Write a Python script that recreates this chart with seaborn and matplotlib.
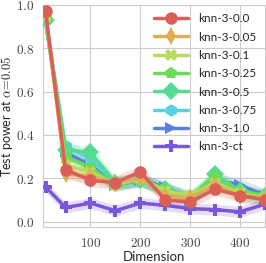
import numpy as np
import pandas as pd
import matplotlib
matplotlib.use("Agg")
import matplotlib.pyplot as plt
import seaborn as sns
from matplotlib.ticker import FuncFormatter

# --- Style ---
sns.set_style("whitegrid")
plt.rcParams["mathtext.fontset"] = "cm"
plt.rcParams["font.family"] = ["Lato", "DejaVu Sans"]

# --- Data ---
dims = [10, 50, 100, 150, 200, 250, 300, 350, 400, 450]
names = ["knn-3-0.0", "knn-3-0.05", "knn-3-0.1", "knn-3-0.25",
         "knn-3-0.5", "knn-3-0.75", "knn-3-1.0", "knn-3-ct"]
power_00 = [0.97, 0.24, 0.19, 0.18, 0.23, 0.10, 0.09, 0.15, 0.12, 0.10]
power_005 = [0.96, 0.22, 0.21, 0.18, 0.20, 0.12, 0.11, 0.17, 0.12, 0.11]
power_01 = [0.95, 0.26, 0.23, 0.17, 0.20, 0.14, 0.12, 0.18, 0.13, 0.11]
power_025 = [0.94, 0.30, 0.25, 0.17, 0.19, 0.15, 0.11, 0.21, 0.14, 0.12]
power_05 = [0.93, 0.33, 0.32, 0.18, 0.19, 0.15, 0.11, 0.22, 0.14, 0.12]
power_075 = [0.93, 0.35, 0.29, 0.18, 0.19, 0.15, 0.10, 0.19, 0.13, 0.11]
power_10 = [0.92, 0.32, 0.26, 0.17, 0.19, 0.16, 0.10, 0.19, 0.17, 0.12]
power_ct = [0.16, 0.065, 0.085, 0.05, 0.085, 0.075, 0.06, 0.055, 0.045, 0.08]
band = [0.03, 0.03, 0.03, 0.03, 0.03, 0.03, 0.03, 0.025]
markers = ["o", "d", "X", "p", "D", "h", ">", "P"]

series = [power_00, power_005, power_01, power_025, power_05, power_075, power_10, power_ct]
df = pd.DataFrame({
    "Dimension": dims * len(names),
    "power": [v for s in series for v in s],
    "method": [n for n in names for _ in dims],
})

colors = sns.color_palette("hls", 10)[:8]

fig = plt.figure(figsize=(2.66, 2.63), dpi=100)
ax = fig.add_axes([0.162, 0.137, 0.834, 0.844])

for name, vals, c, b in zip(names, series, colors, band):
    v = np.array(vals)
    ax.fill_between(dims, v - b, v + b, color=c, alpha=0.2, lw=0)

sns.lineplot(data=df, x="Dimension", y="power", hue="method", style="method",
             palette=colors, markers=markers, dashes=False, lw=2.5,
             markersize=9, markeredgewidth=0, ax=ax)
# first series ends up on top, as in the reference
for i, ln in enumerate(ax.lines[:len(names)]):
    ln.set_zorder(3 + len(names) - i)

ax.set_xlim(5, 450)
ax.set_ylim(-0.025, 1.0)
ax.set_xticks([100, 200, 300, 400])
ax.set_yticks([0.0, 0.2, 0.4, 0.6, 0.8, 1.0])
ax.xaxis.set_major_formatter(FuncFormatter(lambda v, p: f"${v:.0f}$"))
ax.yaxis.set_major_formatter(FuncFormatter(lambda v, p: f"${v:.1f}$"))
ax.tick_params(labelsize=9.5, colors="#444444")
ax.tick_params(axis="y", pad=3)
ax.tick_params(axis="x", pad=3)
ax.set_xlabel("Dimension", fontsize=9.5)
ax.set_ylabel(r"Test power at $\alpha\!=\!0.05$", fontsize=9)
ax.yaxis.set_label_coords(-0.128, 0.5)
ax.xaxis.set_label_coords(0.5, -0.108)

ax.legend(loc="upper right", frameon=False, fontsize=8.5, handlelength=2.9,
          labelspacing=0.62, borderaxespad=0.3, handletextpad=0.9, title=None)

fig.savefig("out.png", dpi=100)
